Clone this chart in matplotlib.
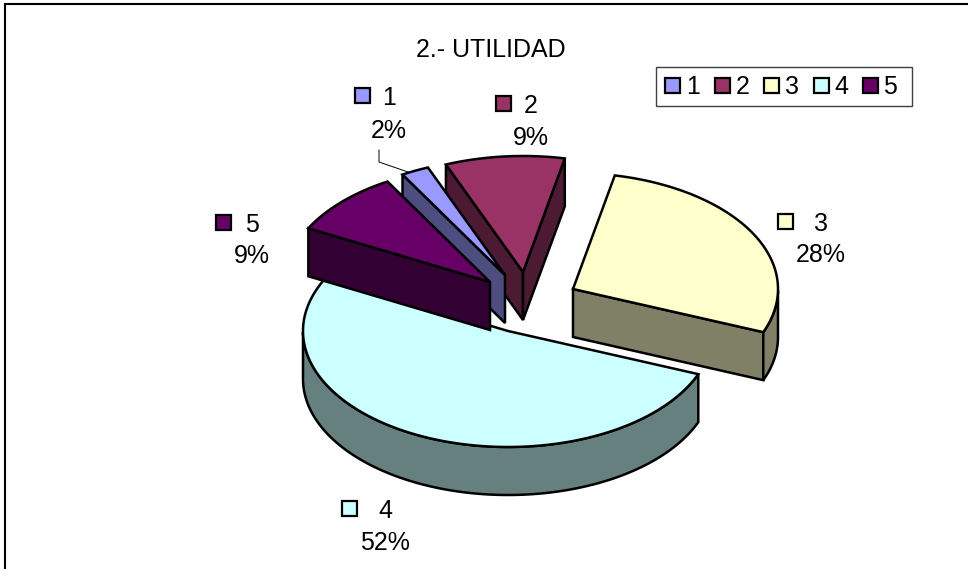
import numpy as np
import matplotlib
matplotlib.use("Agg")
import matplotlib.pyplot as plt
from matplotlib.colors import to_rgb
from matplotlib.patches import Polygon

plt.rcParams['font.family'] = ['Liberation Sans', 'DejaVu Sans']

categories = ['1', '2', '3', '4', '5']
values = [2.2, 9.4, 27.8, 51.6, 9.0]
pct_labels = ['2%', '9%', '28%', '52%', '9%']
colors = ['#9999FF', '#993366', '#FFFFCC', '#CCFFFF', '#660066']
title = '2.- UTILIDAD'

# look of the 3d pie, in pixels of the picture
first_angle = 330
rx, ry, depth = 205, 116, 48
centers = {'1': (505, 275), '2': (523, 272), '3': (573, 289), '4': (508, 331), '5': (490, 282)}
draw_order = ['4', '3', '2', '1', '5']
# marker x, y, name x, y, percent x, y
label_pos = {'1': (362, 95, 389, 97.5, 389, 130.5), '2': (503, 103, 531, 105.5, 531, 137.5),
             '3': (785, 221, 821, 223.5, 821, 254.5), '4': (349, 508, 385, 511.5, 385, 543.5),
             '5': (223, 222, 252, 224.5, 252, 255.5)}

fig = plt.figure(figsize=(9.68, 5.69), dpi=100)
ax = fig.add_axes([0, 0, 1, 1])
ax.set_xlim(0, 968)
ax.set_ylim(569, 0)
ax.axis('off')

lw = 1.8
fs = 18


def ell(c, t):
    t = np.radians(t)
    return np.column_stack([c[0] + rx * np.sin(t), c[1] - ry * np.cos(t)])


def add(pts, col, z):
    ax.add_patch(Polygon(pts, closed=True, fc=col, ec='black', lw=lw, joinstyle='miter', zorder=z))


cum = np.cumsum([0] + values) / sum(values) * 360 + first_angle
handles = []
for name in draw_order:
    i = categories.index(name)
    c = centers[name]
    col = colors[i]
    dark = tuple(v * 0.5 for v in to_rgb(col))
    z = 2 + draw_order.index(name)
    angles = np.linspace(cum[i], cum[i + 1], 120)
    arc = ell(c, angles)
    down = np.array([0, depth])
    tip = np.array(c, dtype=float)
    # only the walls facing the viewer
    if np.sin(np.radians(cum[i])) < 0:
        add([tip, arc[0], arc[0] + down, tip + down], dark, z)
    if np.sin(np.radians(cum[i + 1])) > 0:
        add([tip, arc[-1], arc[-1] + down, tip + down], dark, z)
    front = np.cos(np.radians(angles)) < 0
    if front.any():
        rim = arc[front]
        add(np.vstack([rim, (rim + down)[::-1]]), dark, z)
    add(np.vstack([[tip], arc]), col, z)

    mx, my, tx, ty, px, py = label_pos[name]
    ax.plot([mx], [my], marker='s', ms=10.8, mfc=col, mec='black', mew=1.6, ls='none', zorder=20)
    ax.text(tx, ty, name, fontsize=fs, ha='center', va='center', zorder=20)
    ax.text(px, py, pct_labels[i], fontsize=fs, ha='center', va='center', zorder=20)

# leader line of the small slice
ax.plot([379, 379, 408], [150, 162, 172], color='black', lw=0.7, zorder=1)

for i, name in enumerate(categories):
    # trailing space on the last one gives the wider right padding of the box
    lab = name + ' ' if i == len(categories) - 1 else name
    handles.append(ax.plot([], [], marker='s', ms=10.8, mfc=colors[i], mec='black', mew=1.6,
                           ls='none', label=lab)[0])
leg = ax.legend(handles=handles, ncol=5, loc='upper left', bbox_to_anchor=(656, 67),
                bbox_transform=ax.transData, fontsize=fs, fancybox=False, framealpha=1,
                edgecolor='#404040', handlelength=0.7, handletextpad=0.2, columnspacing=0.52,
                borderpad=0.3, borderaxespad=0)
leg.get_frame().set_linewidth(1.0)
leg.set_zorder(21)

ax.text(490.5, 50, title, fontsize=fs, ha='center', va='center', zorder=20)

# chart frame, only the left and top sides show
ax.plot([5, 5, 968], [569, 4, 4], color='black', lw=1.5, zorder=30, solid_joinstyle='miter')

fig.savefig('out.png', dpi=100)
